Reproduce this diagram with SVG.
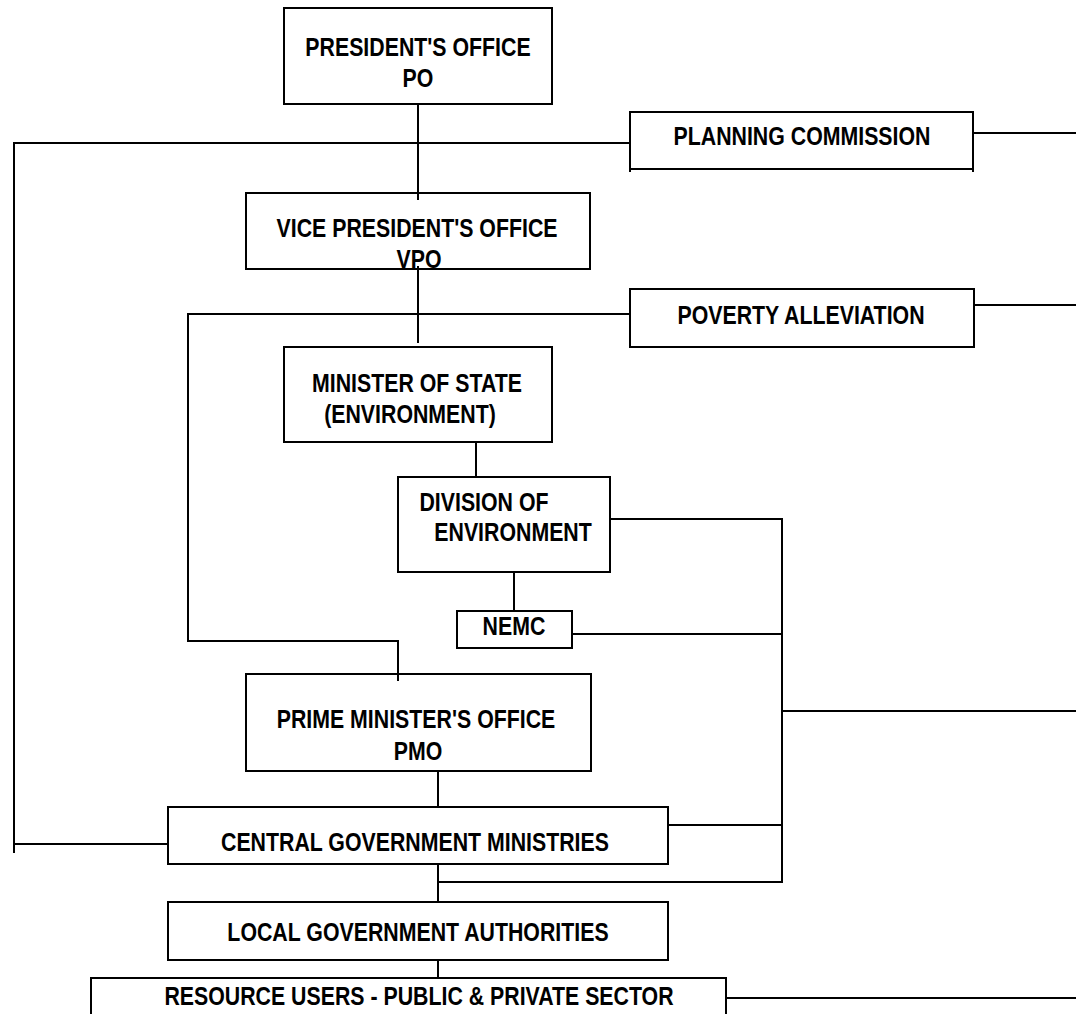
<svg xmlns="http://www.w3.org/2000/svg" width="1076" height="1014" viewBox="0 0 1076 1014">
<style>
.box{fill:#fff;stroke:#000;stroke-width:2}
.ln{fill:none;stroke:#000;stroke-width:2}
.t{font-family:"Liberation Sans",Arial,sans-serif;font-weight:bold;font-size:26px;fill:#000;text-anchor:middle;transform-box:fill-box;transform-origin:center;transform:scaleX(0.82)}
</style>
<rect width="1076" height="1014" fill="#fff"/>
<g id="connectors">
<path class="ln" d="M418 104V200"/>
<path class="ln" d="M630 143H14V853M14 844H168"/>
<path class="ln" d="M973 133H1076"/>
<path class="ln" d="M418 266V343"/>
<path class="ln" d="M630 314H188V641H398V681"/>
<path class="ln" d="M974 305H1076"/>
<path class="ln" d="M476 442V477"/>
<path class="ln" d="M610 519H782V882H438"/>
<path class="ln" d="M514 572V611"/>
<path class="ln" d="M572 634H782"/>
<path class="ln" d="M782 711H1076"/>
<path class="ln" d="M438 771V807"/>
<path class="ln" d="M668 825H782"/>
<path class="ln" d="M438 864V902"/>
<path class="ln" d="M438 960V978"/>
<path class="ln" d="M726 998H1076"/>
</g>
<g id="po">
<rect class="box" x="284" y="8" width="268" height="96"/>
<text class="t" x="418" y="56">PRESIDENT'S OFFICE</text>
<text class="t" x="418" y="87">PO</text>
</g>
<g id="planning">
<rect class="box" x="630" y="112" width="343" height="57"/>
<path class="ln" d="M630 169V172M973 169V172"/>
<text class="t" x="802" y="145">PLANNING COMMISSION</text>
</g>
<g id="vpo">
<rect class="box" x="246" y="193" width="344" height="76"/>
<path class="ln" d="M418 193V200"/>
<text class="t" x="417" y="237">VICE PRESIDENT'S OFFICE</text>
<text class="t" x="419" y="268">VPO</text>
<path class="ln" d="M418 266V272"/>
</g>
<g id="poverty">
<rect class="box" x="630" y="289" width="344" height="58"/>
<text class="t" x="801" y="324">POVERTY ALLEVIATION</text>
</g>
<g id="minister">
<rect class="box" x="284" y="347" width="268" height="95"/>
<text class="t" x="417" y="392">MINISTER OF STATE</text>
<text class="t" x="410" y="423">(ENVIRONMENT)</text>
</g>
<g id="division">
<rect class="box" x="398" y="477" width="212" height="95"/>
<text class="t" x="484" y="511">DIVISION OF</text>
<text class="t" x="513" y="541">ENVIRONMENT</text>
</g>
<g id="nemc">
<rect class="box" x="457" y="611" width="115" height="37"/>
<text class="t" x="514" y="635">NEMC</text>
</g>
<g id="pmo">
<rect class="box" x="246" y="674" width="345" height="97"/>
<path class="ln" d="M398 674V681"/>
<text class="t" x="416" y="728">PRIME MINISTER'S OFFICE</text>
<text class="t" x="418" y="760">PMO</text>
</g>
<g id="central">
<rect class="box" x="168" y="807" width="500" height="57"/>
<text class="t" x="415" y="851">CENTRAL GOVERNMENT MINISTRIES</text>
</g>
<g id="local">
<rect class="box" x="168" y="902" width="500" height="58"/>
<text class="t" x="418" y="941">LOCAL GOVERNMENT AUTHORITIES</text>
</g>
<g id="resource">
<rect class="box" x="91" y="978" width="635" height="50"/>
<text class="t" x="419" y="1005">RESOURCE USERS - PUBLIC &amp; PRIVATE SECTOR</text>
</g>
</svg>
